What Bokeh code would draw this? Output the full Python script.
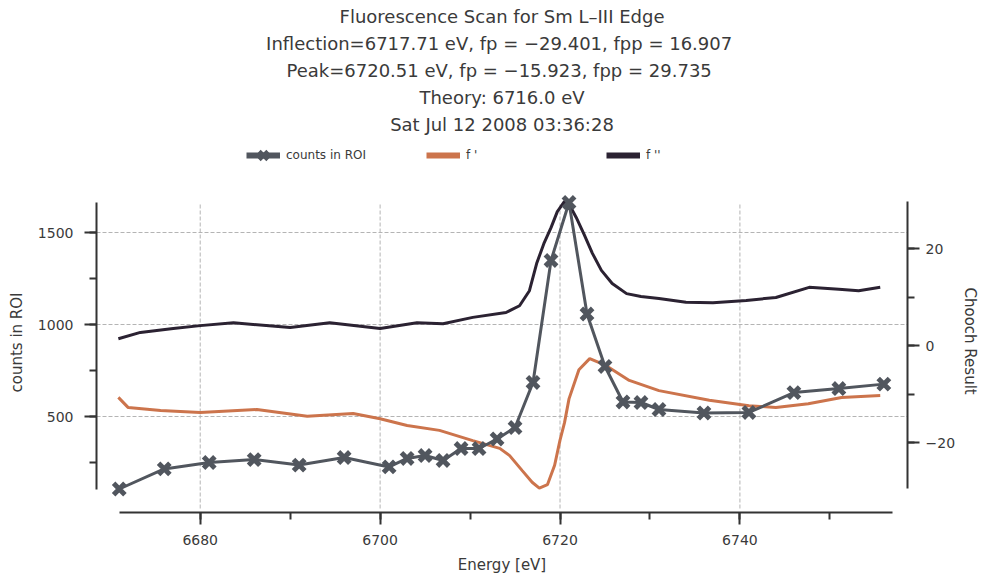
from bokeh.plotting import figure
from bokeh.models import (Range1d, LinearAxis, SingleIntervalTicker, Title,
                          Legend, LegendItem)
from bokeh.embed import file_html
from bokeh.resources import INLINE

# ---------------- data ----------------
title_lines = [
    "Fluorescence Scan for Sm L\u2013III Edge",
    "Inflection=6717.71 eV, fp = \u221229.401, fpp =  16.907",
    "Peak=6720.51 eV, fp = \u221215.923, fpp =  29.735",
    "Theory: 6716.0 eV",
    "Sat Jul 12 2008 03:36:28",
]

energy_counts = [6671, 6676, 6681, 6686, 6691, 6696, 6701, 6703, 6705, 6707,
                 6709, 6711, 6713, 6715, 6717, 6719, 6721, 6723, 6725, 6727,
                 6729, 6731, 6736, 6741, 6746, 6751, 6756]
counts = [106, 215, 250, 266, 236, 277, 226, 272, 288, 261,
          326, 326, 378, 440, 685, 1348, 1663, 1057, 772, 579,
          576, 538, 519, 522, 630, 652, 676]

fp_energy = [6670.9, 6672.0, 6675.6, 6680.0, 6686.3, 6691.9, 6697.0, 6700.0,
             6703.0, 6706.6, 6710.3, 6713.3, 6714.4, 6715.8, 6716.9, 6717.7,
             6718.6, 6719.4, 6720.0, 6720.5, 6721.0, 6722.1, 6723.3, 6725.1,
             6727.7, 6731.0, 6736.6, 6741.0, 6744.0, 6747.6, 6751.3, 6755.6]
fp = [-10.7, -12.8, -13.4, -13.8, -13.2, -14.6, -14.0, -15.1,
      -16.5, -17.5, -19.6, -21.2, -22.7, -25.8, -28.2, -29.4,
      -28.7, -24.7, -19.5, -15.9, -11.0, -5.0, -2.7, -4.1,
      -7.2, -9.3, -11.3, -12.4, -12.8, -12.0, -10.7, -10.3]

fpp_energy = [6670.9, 6673.35, 6677.0, 6680.0, 6683.7, 6690.0, 6694.4, 6700.0,
              6704.1, 6707.0, 6710.3, 6714.0, 6715.5, 6716.6, 6717.4, 6718.2,
              6719.0, 6719.7, 6720.5, 6721.1, 6721.8, 6722.7, 6723.6, 6724.6,
              6725.8, 6727.4, 6729.0, 6731.0, 6734.0, 6737.0, 6740.7, 6744.0,
              6747.7, 6751.0, 6753.2, 6755.6]
fpp = [1.4, 2.7, 3.5, 4.1, 4.7, 3.7, 4.7, 3.5,
       4.7, 4.5, 5.8, 6.8, 8.2, 11.3, 16.9, 21.0,
       24.3, 27.6, 29.7, 28.8, 26.4, 22.8, 19.0, 15.5,
       12.8, 10.7, 10.1, 9.7, 8.9, 8.8, 9.3, 9.9,
       12.0, 11.6, 11.3, 12.0]

x_major_ticks = [6680, 6700, 6720, 6740]
legend_labels = ["counts in ROI", "f '", "f ''"]
x_title = "Energy [eV]"
left_title = "counts in ROI"
right_title = "Chooch Result"

# ---------------- styling ----------------
C_COUNTS = "#51565e"
C_FP = "#cc744c"
C_FPP = "#2b2232"
TXT = "#3a3a3a"
GRID = "#b4b4b4"
FONT = "DejaVu Sans"
NAN = float("nan")

p = figure(width=982, height=579, output_backend="svg", toolbar_location=None,
           x_range=Range1d(6668.47, 6758.63), y_range=Range1d(-21.7, 2000.0),
           min_border_left=96, min_border_right=73, min_border_top=140,
           min_border_bottom=67)
p.outline_line_color = None
p.background_fill_color = "white"
p.border_fill_color = "white"

p.extra_y_ranges = {"chooch": Range1d(-34.43, 42.27)}

xt = SingleIntervalTicker(interval=20, num_minor_ticks=2)
yt = SingleIntervalTicker(interval=500, num_minor_ticks=2)
rt = SingleIntervalTicker(interval=20, num_minor_ticks=2)

p.xaxis.ticker = xt
p.yaxis.ticker = yt
p.ygrid.ticker = yt
p.xgrid.visible = False

right = LinearAxis(y_range_name="chooch", ticker=rt)
p.add_layout(right, "right")

p.xaxis.axis_label = x_title

p.xaxis.bounds = (min(energy_counts), max(energy_counts) + 1)
p.yaxis.bounds = (min(counts), max(counts))
right.bounds = (min(fp), max(fpp))

for ax in [p.xaxis[0], p.yaxis[0], right]:
    ax.axis_line_color = "#333333"
    ax.axis_line_width = 2
    ax.major_tick_line_color = "#333333"
    ax.major_tick_line_width = 2
    ax.minor_tick_line_color = "#333333"
    ax.minor_tick_line_width = 2
    ax.major_tick_in = 0
    ax.minor_tick_in = 0
    ax.major_tick_out = 12
    ax.minor_tick_out = 7
    ax.major_label_text_font = FONT
    ax.major_label_text_font_size = "14px"
    ax.major_label_text_color = TXT
    ax.axis_label_text_font = FONT
    ax.axis_label_text_font_size = "15px"
    ax.axis_label_text_font_style = "normal"
    ax.axis_label_text_color = TXT

p.xaxis.major_label_standoff = 10
p.xaxis.axis_label_standoff = 8
p.yaxis.major_label_standoff = 11
right.major_label_standoff = 6

# side titles (the axis names), placed a little below the frame centre as in the reference
p.add_layout(Title(text=left_title, align="left", vertical_align="top",
                   offset=120, standoff=14, text_font=FONT,
                   text_font_size="15px", text_font_style="normal",
                   text_color=TXT), "left")
p.add_layout(Title(text=right_title, align="left", vertical_align="bottom",
                   offset=147, standoff=4, text_font=FONT,
                   text_font_size="15px", text_font_style="normal",
                   text_color=TXT), "right")

p.ygrid.grid_line_color = GRID
p.ygrid.grid_line_dash = "4 2"
p.ygrid.grid_line_width = 1

# vertical grid lines at the major energy ticks, spanning the counts axis
p.segment(x0=x_major_ticks, y0=[0] * len(x_major_ticks),
          x1=x_major_ticks, y1=[max(counts)] * len(x_major_ticks),
          line_color=GRID, line_dash="4 2", line_width=1)

# ---------------- data glyphs ----------------
p.line(fp_energy, fp, y_range_name="chooch", line_width=3, color=C_FP)
p.line(fpp_energy, fpp, y_range_name="chooch", line_width=3, color=C_FPP)
p.line(energy_counts, counts, line_width=3, color=C_COUNTS)
p.scatter(energy_counts, counts, marker="x", size=16, line_width=5,
          color=C_COUNTS)

# ---------------- legend (sample glyphs only; NaN points draw nothing) ----------------
l1 = p.line([NAN], [NAN], line_width=6, color=C_COUNTS)
s1 = p.scatter([NAN], [NAN], marker="x", size=12, line_width=4, color=C_COUNTS)
l2 = p.line([NAN], [NAN], line_width=6, color=C_FP)
l3 = p.line([NAN], [NAN], line_width=6, color=C_FPP)

legend = Legend(
    items=[LegendItem(label=legend_labels[0], renderers=[l1, s1]),
           LegendItem(label=legend_labels[1], renderers=[l2]),
           LegendItem(label=legend_labels[2], renderers=[l3])],
    location=(150, 342), orientation="horizontal",
    glyph_width=34, glyph_height=30, label_height=14, label_width=120,
    label_standoff=6, spacing=20, padding=0, margin=0,
    border_line_alpha=0, background_fill_alpha=0,
    label_text_font=FONT, label_text_font_size="12px", label_text_color=TXT)
p.add_layout(legend)

# ---------------- title lines (added bottom-up; later ones sit higher) ----------------
for i, txt in enumerate(reversed(title_lines)):
    p.add_layout(Title(text=txt, align="center",
                       vertical_align="top" if i == 0 else "bottom",
                       standoff=8 if i == 0 else 3.5,
                       text_font=FONT, text_font_size="18px",
                       text_font_style="normal", text_color=TXT), "above")

open("out.html", "w").write(file_html(p, INLINE))
